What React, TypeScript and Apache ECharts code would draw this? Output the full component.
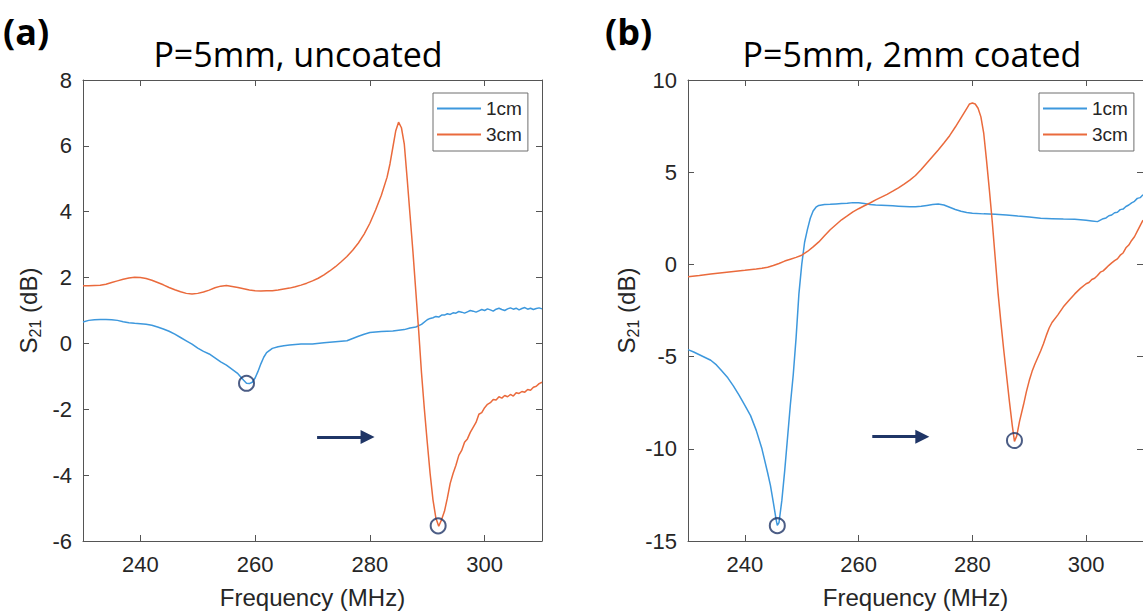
import React, { useEffect, useRef } from "react";
import * as echarts from "echarts";

// ---------- data ----------
const freqTicks = [240, 260, 280, 300];
const yTicksA = [-6, -4, -2, 0, 2, 4, 6, 8];
const yTicksB = [-15, -10, -5, 0, 5, 10];

const panelA_1cm: [number, number][] = [
  [230, 0.65], [231, 0.7], [232, 0.72], [233, 0.73], [234, 0.73], [235, 0.72], [236, 0.7], [237, 0.66],
  [238, 0.63], [239, 0.61], [240, 0.6], [241, 0.58], [242, 0.55], [243, 0.5], [244, 0.44], [245, 0.37],
  [246, 0.28], [247, 0.18], [248, 0.08], [249, -0.02], [250, -0.14], [251, -0.24], [252, -0.32], [253, -0.44],
  [254, -0.56], [255, -0.66], [256, -0.79], [257, -0.92], [258, -1.12], [258.5, -1.21], [259, -1.22],
  [259.5, -1.18], [260, -1.05], [260.5, -0.85], [261, -0.62], [261.5, -0.42], [262, -0.28], [263, -0.15],
  [264, -0.1], [265, -0.07], [266, -0.05], [267, -0.03], [268, -0.02], [270, -0.02], [272, 0.02], [274, 0.05],
  [276, 0.08], [277, 0.15], [278, 0.22], [279, 0.28], [280, 0.33], [282, 0.36], [284, 0.38], [286, 0.42],
  [287, 0.47], [288, 0.5], [289, 0.58], [290, 0.72], [290.5, 0.76], [291, 0.78], [291.5, 0.82], [292, 0.8],
  [292.5, 0.86], [293, 0.86], [293.5, 0.9], [294, 0.88], [294.5, 0.93], [295, 0.92], [295.5, 0.97], [296, 0.95],
  [296.5, 0.92], [297, 0.96], [297.5, 1.0], [298, 0.98], [298.5, 0.95], [299, 0.99], [299.5, 1.03], [300, 1.0],
  [300.5, 1.05], [301, 1.02], [301.5, 0.98], [302, 1.04], [302.5, 1.07], [303, 1.03], [303.5, 1.0], [304, 1.05],
  [304.5, 1.08], [305, 1.04], [305.5, 1.07], [306, 1.02], [306.5, 1.06], [307, 1.09], [307.5, 1.04], [308, 1.07],
  [308.5, 1.03], [309, 1.06], [309.5, 1.08], [310, 1.05],
];

const panelA_3cm: [number, number][] = [
  [230, 1.75], [231, 1.75], [232, 1.76], [233, 1.77], [234, 1.8], [235, 1.85], [236, 1.9], [237, 1.95],
  [238, 1.99], [239, 2.01], [240, 2.0], [241, 1.97], [242, 1.92], [243, 1.85], [244, 1.78], [245, 1.7],
  [246, 1.63], [247, 1.57], [248, 1.52], [249, 1.5], [250, 1.52], [251, 1.56], [252, 1.62], [253, 1.69],
  [254, 1.74], [255, 1.76], [256, 1.73], [257, 1.7], [258, 1.66], [259, 1.62], [260, 1.6], [261, 1.59],
  [262, 1.6], [263, 1.6], [264, 1.62], [265, 1.65], [266, 1.68], [267, 1.72], [268, 1.77], [269, 1.83],
  [270, 1.9], [271, 1.98], [272, 2.08], [273, 2.2], [274, 2.33], [275, 2.48], [276, 2.64], [277, 2.83],
  [278, 3.05], [279, 3.32], [280, 3.65], [281, 4.05], [282, 4.5], [283, 5.05], [283.5, 5.45], [284, 5.95],
  [284.5, 6.45], [285, 6.72], [285.5, 6.55], [286, 6.05], [286.5, 5.0], [287, 3.9], [287.5, 2.8], [288, 1.6],
  [288.5, 0.4], [289, -0.9], [289.5, -2.0], [290, -3.0], [290.5, -3.95], [291, -4.75], [291.5, -5.3],
  [292, -5.55], [292.5, -5.35], [293, -5.1], [293.5, -4.7], [294, -4.25], [294.5, -3.95], [295, -3.7],
  [295.5, -3.4], [296, -3.25], [296.5, -3.0], [297, -2.9], [297.5, -2.7], [298, -2.55], [298.5, -2.4],
  [299, -2.15], [299.5, -2.1], [300, -1.95], [300.5, -1.85], [301, -1.8], [301.5, -1.7], [302, -1.72],
  [302.5, -1.62], [303, -1.66], [303.5, -1.58], [304, -1.62], [304.5, -1.55], [305, -1.6], [305.5, -1.5],
  [306, -1.52], [306.5, -1.46], [307, -1.48], [307.5, -1.4], [308, -1.42], [308.5, -1.33], [309, -1.3],
  [309.5, -1.22], [310, -1.18],
];

const panelB_1cm: [number, number][] = [
  [230, -4.62], [231, -4.75], [232, -4.9], [233, -5.05], [234, -5.2], [235, -5.45], [236, -5.8], [237, -6.15],
  [238, -6.6], [239, -7.1], [240, -7.65], [241, -8.2], [242, -9.0], [243, -10.0], [244, -11.3], [244.5, -12.0],
  [245, -12.9], [245.5, -13.85], [245.7, -14.15], [246, -14.0], [246.5, -12.8], [247, -11.2], [247.5, -9.4],
  [248, -7.6], [248.5, -6.0], [249, -4.0], [249.5, -1.6], [250, 0.0], [250.5, 1.2], [251, 1.9], [251.5, 2.5],
  [252, 2.9], [252.5, 3.1], [253, 3.2], [254, 3.25], [255, 3.26], [256, 3.28], [257, 3.3], [258, 3.32],
  [259, 3.35], [260, 3.34], [261, 3.3], [262, 3.25], [263, 3.22], [264, 3.21], [265, 3.2], [266, 3.18],
  [267, 3.16], [268, 3.14], [269, 3.12], [270, 3.12], [271, 3.15], [272, 3.2], [273, 3.25], [274, 3.27],
  [275, 3.22], [276, 3.1], [277, 2.98], [278, 2.88], [279, 2.82], [280, 2.78], [282, 2.74], [284, 2.72],
  [286, 2.68], [288, 2.62], [290, 2.57], [292, 2.5], [294, 2.48], [296, 2.46], [298, 2.45], [300, 2.4],
  [301, 2.36], [302, 2.32], [302.5, 2.4], [303, 2.48], [303.5, 2.52], [304, 2.64], [304.5, 2.68], [305, 2.8],
  [305.5, 2.83], [306, 2.97], [306.5, 3.0], [307, 3.14], [307.5, 3.22], [308, 3.34], [308.5, 3.42],
  [309, 3.58], [309.5, 3.62], [310, 3.78],
];

const panelB_3cm: [number, number][] = [
  [230, -0.67], [232, -0.6], [234, -0.52], [236, -0.45], [238, -0.38], [240, -0.32], [242, -0.25], [243, -0.21],
  [244, -0.15], [245, -0.06], [246, 0.05], [247, 0.18], [248, 0.28], [249, 0.38], [250, 0.5], [251, 0.7],
  [252, 0.95], [253, 1.22], [254, 1.55], [255, 1.88], [256, 2.15], [257, 2.42], [258, 2.63], [259, 2.85],
  [260, 3.02], [261, 3.18], [262, 3.33], [263, 3.5], [264, 3.65], [265, 3.8], [266, 3.97], [267, 4.15],
  [268, 4.35], [269, 4.57], [270, 4.82], [271, 5.15], [272, 5.5], [273, 5.85], [274, 6.2], [275, 6.58],
  [276, 6.98], [277, 7.45], [278, 7.95], [279, 8.45], [279.5, 8.7], [280, 8.75], [280.5, 8.7], [281, 8.47],
  [281.5, 8.0], [282, 7.1], [282.5, 5.6], [283, 4.0], [283.5, 2.3], [284, 0.4], [284.5, -1.5], [285, -3.1],
  [285.5, -4.6], [286, -6.0], [286.5, -7.4], [287, -8.7], [287.4, -9.6], [287.8, -9.3], [288.3, -8.5],
  [289, -7.6], [289.5, -6.9], [290, -6.3], [290.5, -5.8], [291, -5.4], [291.5, -5.05], [292, -4.7],
  [292.5, -4.3], [293, -3.85], [293.5, -3.45], [294, -3.15], [295, -2.75], [296, -2.3], [297, -1.95],
  [298, -1.6], [299, -1.3], [300, -1.05], [300.5, -0.98], [301, -0.82], [301.5, -0.75], [302, -0.6],
  [302.5, -0.42], [303, -0.35], [303.5, -0.2], [304, -0.05], [304.5, 0.08], [305, 0.2], [305.5, 0.3],
  [306, 0.5], [306.5, 0.62], [307, 0.9], [307.5, 1.05], [308, 1.3], [308.5, 1.5], [309, 1.8], [309.5, 2.1],
  [310, 2.4],
];

// marked minima (circles) and shift arrows
const minimaA: [number, number][] = [[258.5, -1.21], [291.9, -5.54]];
const minimaB: [number, number][] = [[245.7, -14.17], [287.4, -9.55]];
const arrowA: [number, number][] = [[270.8, -2.84], [279.6, -2.84]];
const arrowB: [number, number][] = [[262.4, -9.34], [271.2, -9.34]];

const BLUE = "#3d98dd";
const ORANGE = "#ea6a3c";
const NAVY = "#1f3566";
const AXIS = "#555555";
const TXT = "#262626";
const FONT = "'Liberation Sans', Arial, sans-serif";
const TITLE_FONT = "'Open Sans', sans-serif";

function makeAxes(gridIndex: number, yMin: number, yMax: number, yInt: number, nameGap: number) {
  const common = {
    gridIndex,
    axisLine: { show: true, onZero: false, lineStyle: { color: AXIS, width: 1 } },
    axisTick: { show: true, inside: true, length: 6, lineStyle: { color: AXIS } },
    splitLine: { show: false },
  };
  const xBottom = {
    ...common,
    type: "value",
    position: "bottom",
    min: 230,
    max: 310,
    axisTick: { ...common.axisTick, customValues: freqTicks },
    axisLabel: { customValues: freqTicks, color: TXT, fontSize: 22, fontFamily: FONT, margin: 12 },
    name: "Frequency (MHz)",
    nameLocation: "middle",
    nameGap: 44,
    nameTextStyle: { color: TXT, fontSize: 24, fontFamily: FONT },
  };
  const xTop = {
    ...common,
    type: "value",
    position: "top",
    min: 230,
    max: 310,
    axisTick: { ...common.axisTick, customValues: freqTicks },
    axisLabel: { show: false, customValues: freqTicks },
  };
  const yLeft = {
    ...common,
    type: "value",
    position: "left",
    min: yMin,
    max: yMax,
    interval: yInt,
    axisLabel: { color: TXT, fontSize: 22, fontFamily: FONT, margin: 11 },
    name: "{s|S}{sub|21}{s| (dB)}",
    nameLocation: "middle",
    nameRotate: 90,
    nameGap,
    nameTextStyle: {
      color: TXT,
      fontFamily: FONT,
      fontSize: 24,
      rich: {
        s: { fontSize: 24, lineHeight: 30, color: TXT, fontFamily: FONT },
        sub: { fontSize: 16, lineHeight: 16, verticalAlign: "bottom", color: TXT, fontFamily: FONT },
      },
    },
  };
  const yRight = {
    ...common,
    type: "value",
    position: "right",
    min: yMin,
    max: yMax,
    interval: yInt,
    axisLabel: { show: false },
  };
  return { xBottom, xTop, yLeft, yRight };
}

function lineSeries(name: string, data: [number, number][], color: string, idx: number) {
  return {
    name,
    type: "line",
    xAxisIndex: idx,
    yAxisIndex: idx,
    data,
    showSymbol: false,
    symbol: "none",
    lineStyle: { color, width: 1.5 },
    itemStyle: { color },
    z: 3,
  };
}

function markSeries(name: string, pts: [number, number][], arrow: [number, number][], idx: number) {
  return {
    name,
    type: "scatter",
    xAxisIndex: idx,
    yAxisIndex: idx,
    data: pts,
    symbol: "circle",
    symbolSize: 15,
    itemStyle: { color: "rgba(0,0,0,0)", borderColor: NAVY, borderWidth: 2 },
    z: 5,
    silent: true,
    markLine: {
      silent: true,
      symbol: ["none", "triangle"],
      symbolSize: [14, 14],
      label: { show: false },
      lineStyle: { color: NAVY, width: 3, type: "solid" },
      data: [[{ coord: arrow[0] }, { coord: arrow[1] }]],
    },
  };
}

export default function App() {
  const ref = useRef<HTMLDivElement>(null);
  useEffect(() => {
    if (!ref.current) return;
    const chart = echarts.init(ref.current, undefined, { renderer: "svg" });
    const a = makeAxes(0, yTicksA[0], yTicksA[yTicksA.length - 1], 2, 40);
    const b = makeAxes(1, yTicksB[0], yTicksB[yTicksB.length - 1], 5, 46);
    const legendCommon = {
      orient: "vertical",
      data: ["1cm", "3cm"],
      icon: "rect",
      itemWidth: 44,
      itemHeight: 2,
      itemGap: 5,
      padding: [5, 6, 6, 4],
      borderColor: "#6e6e6e",
      borderWidth: 1,
      backgroundColor: "#ffffff",
      selectedMode: false,
      textStyle: { fontSize: 19, lineHeight: 21, color: TXT, fontFamily: FONT },
    };
    chart.setOption({
      animation: false,
      backgroundColor: "#ffffff",
      grid: [
        { left: 83, top: 80, width: 459, height: 461 },
        { left: 688, top: 80, width: 458, height: 461 },
      ],
      xAxis: [a.xBottom, b.xBottom, a.xTop, b.xTop],
      yAxis: [a.yLeft, b.yLeft, a.yRight, b.yRight],
      legend: [
        { ...legendCommon, left: 433, top: 93 },
        { ...legendCommon, left: 1039, top: 93 },
      ],
      graphic: [
        {
          type: "text", x: 3, y: 31,
          style: { text: "(a)", font: `bold 36px ${TITLE_FONT}`, fill: "#000", textAlign: "left", textVerticalAlign: "middle", verticalAlign: "middle" },
        },
        {
          type: "text", x: 605, y: 31,
          style: { text: "(b)", font: `bold 36px ${TITLE_FONT}`, fill: "#000", textAlign: "left", textVerticalAlign: "middle", verticalAlign: "middle" },
        },
        {
          type: "text", x: 298, y: 54,
          style: { text: "P=5mm, uncoated", font: `34px ${TITLE_FONT}`, fill: "#000", textAlign: "center", align: "center", textVerticalAlign: "middle", verticalAlign: "middle" },
        },
        {
          type: "text", x: 912, y: 54,
          style: { text: "P=5mm, 2mm coated", font: `34px ${TITLE_FONT}`, fill: "#000", textAlign: "center", align: "center", textVerticalAlign: "middle", verticalAlign: "middle" },
        },
      ],
      series: [
        lineSeries("1cm", panelA_1cm, BLUE, 0),
        lineSeries("3cm", panelA_3cm, ORANGE, 0),
        markSeries("minA", minimaA, arrowA, 0),
        lineSeries("1cm", panelB_1cm, BLUE, 1),
        lineSeries("3cm", panelB_3cm, ORANGE, 1),
        markSeries("minB", minimaB, arrowB, 1),
      ],
    });
    return () => chart.dispose();
  }, []);
  return (
    <div style={{ position: "absolute", left: 0, top: 0, width: 1143, height: 614, overflow: "hidden", background: "#fff" }}>
      <div ref={ref} style={{ width: 1143, height: 614 }} />
    </div>
  );
}
